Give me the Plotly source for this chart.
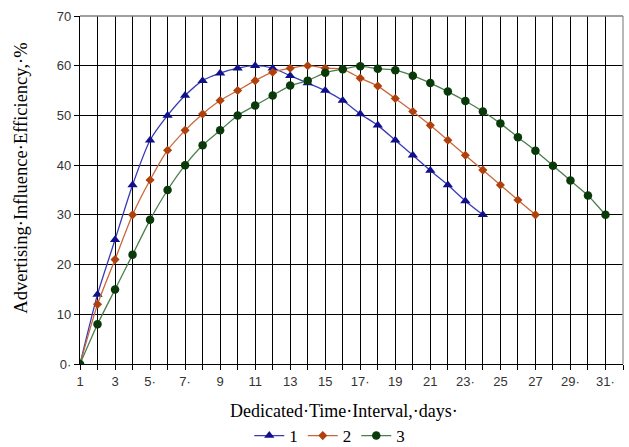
import plotly.graph_objects as go

days_1 = list(range(1, 25))
values_1 = [0, 14, 25, 36, 45, 50, 54, 57, 58.5, 59.5, 60, 59.5, 58, 56.5, 55, 53,
            50.3, 48, 45, 42, 38.9, 36, 32.8, 30]
days_2 = list(range(1, 28))
values_2 = [0, 12, 21, 30, 37, 43, 47, 50.3, 53, 55, 57, 58.7, 59.5, 60, 59.5, 59.3,
            57.5, 55.9, 53.4, 50.8, 48, 45, 42, 39, 36, 33, 30]
days_3 = list(range(1, 32))
values_3 = [0, 8, 15, 22, 29, 35, 40, 44, 47, 50, 52, 54, 56, 57, 58.6, 59.3, 59.9,
            59.4, 59.1, 58, 56.5, 54.8, 52.9, 50.8, 48.4, 45.6, 42.9, 39.9, 36.9, 33.9, 30]
series_names = ["1", "2", "3"]

x_tick_vals = list(range(1, 32, 2))
x_tick_text = ["1", "3", "5·", "7·", "9", "11", "13", "15", "17·", "19", "21", "23·",
               "25", "27", "29·", "31·"]
y_tick_vals = [0, 10, 20, 30, 40, 50, 60, 70]
y_tick_text = ["0·", "10", "20", "30", "40", "50", "60", "70"]
x_title = "Dedicated·Time·Interval,·days·"
y_title = "Advertising·Influence·Efficiency,·%"

fig = go.Figure()
fig.add_trace(go.Scatter(x=days_1, y=values_1, name=series_names[0], mode="lines+markers",
                         line=dict(color="#3a3ab8", width=1.3, shape="spline", smoothing=0.6),
                         marker=dict(symbol="triangle-up", size=9, color="#10108a")))
fig.add_trace(go.Scatter(x=days_2, y=values_2, name=series_names[1], mode="lines+markers",
                         line=dict(color="#c8683a", width=1.3, shape="spline", smoothing=0.6),
                         marker=dict(symbol="diamond", size=7, color="#b0400c")))
fig.add_trace(go.Scatter(x=days_3, y=values_3, name=series_names[2], mode="lines+markers",
                         line=dict(color="#4a7e4a", width=1.3, shape="spline", smoothing=0.6),
                         marker=dict(symbol="circle", size=8.5, color="#0a3a0a")))

fig.update_layout(
    width=629, height=447,
    margin=dict(l=80, r=6, t=16, b=83, autoexpand=False),
    paper_bgcolor="white", plot_bgcolor="white",
    font=dict(family="Liberation Serif", color="#000"),
    legend=dict(orientation="h", x=0.46, xanchor="center", y=-0.207, yanchor="middle",
                font=dict(family="Liberation Serif", size=17, color="#000"),
                itemwidth=30, tracegroupgap=0),
    xaxis=dict(range=[1, 32], tickvals=x_tick_vals, ticktext=x_tick_text,
               automargin=False,
               showgrid=True, gridcolor="#000", gridwidth=1.3,
               ticks="outside", ticklen=5, tickcolor="#000", tickwidth=1.3,
               minor=dict(dtick=1, tick0=1, showgrid=True, gridcolor="#000", gridwidth=1.3,
                          ticks="outside", ticklen=5, tickcolor="#000", tickwidth=1.3),
               tickfont=dict(family="Liberation Sans", size=13, color="#333"),
               showline=True, linecolor="#000", linewidth=1.3,
               zeroline=False),
    yaxis=dict(range=[0, 70], tickvals=y_tick_vals, ticktext=y_tick_text,
               automargin=False,
               showgrid=True, gridcolor="#000", gridwidth=1.3,
               ticks="outside", ticklen=5, tickcolor="#000", tickwidth=1.3,
               tickfont=dict(family="Liberation Sans", size=13, color="#333"),
               showline=True, linecolor="#000", linewidth=1.3, zeroline=False),
    annotations=[
        dict(text=x_title, xref="paper", yref="paper", x=0.487, y=-0.135,
             xanchor="center", yanchor="middle", showarrow=False,
             font=dict(family="Liberation Serif", size=18, color="#000")),
        dict(text=y_title, xref="paper", yref="paper", x=-0.109, y=0.535,
             xanchor="center", yanchor="middle", textangle=-90, showarrow=False,
             font=dict(family="Liberation Serif", size=18.5, color="#000")),
    ],
    shapes=[dict(type="line", xref="paper", yref="paper", x0=1, x1=1, y0=0, y1=1,
                 line=dict(color="#a0a0a0", width=1.5)),
            dict(type="line", xref="paper", yref="paper", x0=0, x1=1, y0=1, y1=1,
                 line=dict(color="#808080", width=1.3))],
)

fig.write_html("out.html", config={"displayModeBar": False},
               post_script="document.body.style.margin='0';document.body.style.overflow='hidden';")
